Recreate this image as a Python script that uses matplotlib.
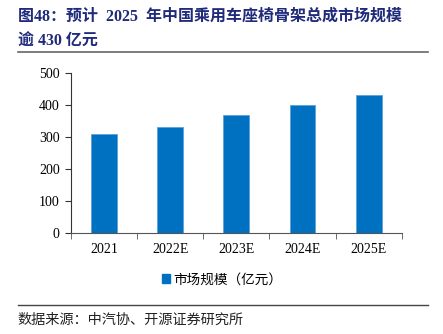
import numpy as np
import matplotlib; matplotlib.use("Agg")
import matplotlib.pyplot as plt
from matplotlib.lines import Line2D
from matplotlib.patches import Patch

plt.rcParams['font.family'] = ['Liberation Serif', 'Noto Sans CJK SC']

years = ["2021", "2022E", "2023E", "2024E", "2025E"]
market = [308, 332, 367, 401, 432]   # 市场规模（亿元）
yticks = [0, 100, 200, 300, 400, 500]

BAR = "#0070C0"
NAVY = "#1F2A7A"

fig = plt.figure(figsize=(4.43, 3.34), dpi=100)
ax = fig.add_axes([0.160, 0.302, 0.747, 0.480])

x = np.arange(len(years))
ax.bar(x, market, width=0.39, color=BAR, edgecolor="#5BA3DC", linewidth=0.6)
ax.set_xlim(-0.5, len(years) - 0.5)
ax.set_ylim(0, 500)
ax.set_yticks(yticks)
ax.set_yticklabels([str(v) for v in yticks], fontsize=10)
ax.set_xticks(x)
ax.set_xticklabels(years, fontsize=10)
ax.tick_params(axis="x", length=0, pad=7)
ax.set_xticks(np.arange(-0.5, len(years)), minor=True)
ax.tick_params(axis="x", which="minor", length=4, color="#555555")
ax.tick_params(axis="y", length=4, color="#333333", pad=4)
for s in ["top", "right"]:
    ax.spines[s].set_visible(False)
ax.spines["left"].set_color("#333333")
ax.spines["bottom"].set_color("#555555")

fig.text(0.040, 0.938, "图48：预计  2025  年中国乘用车座椅骨架总成市场规模",
         fontsize=11.5, weight="bold", color=NAVY, va="baseline")
fig.text(0.040, 0.862, "逾 430 亿元", fontsize=11.5, weight="bold",
         color=NAVY, va="baseline")
fig.add_artist(Line2D([0.040, 0.966], [0.843, 0.843], color="#666666", lw=1.2))

fig.legend(handles=[Patch(color=BAR)], labels=["市场规模（亿元）"],
           loc="center", bbox_to_anchor=(0.502, 0.162), frameon=False,
           fontsize=9.8, handlelength=0.55, handleheight=0.55, handletextpad=0.3)

fig.add_artist(Line2D([0.040, 0.966], [0.087, 0.087], color="#444444", lw=1.0))
fig.text(0.040, 0.030, "数据来源：中汽协、开源证券研究所", fontsize=10.2,
         color="#222222", va="baseline")

fig.savefig("out.png", dpi=100)
